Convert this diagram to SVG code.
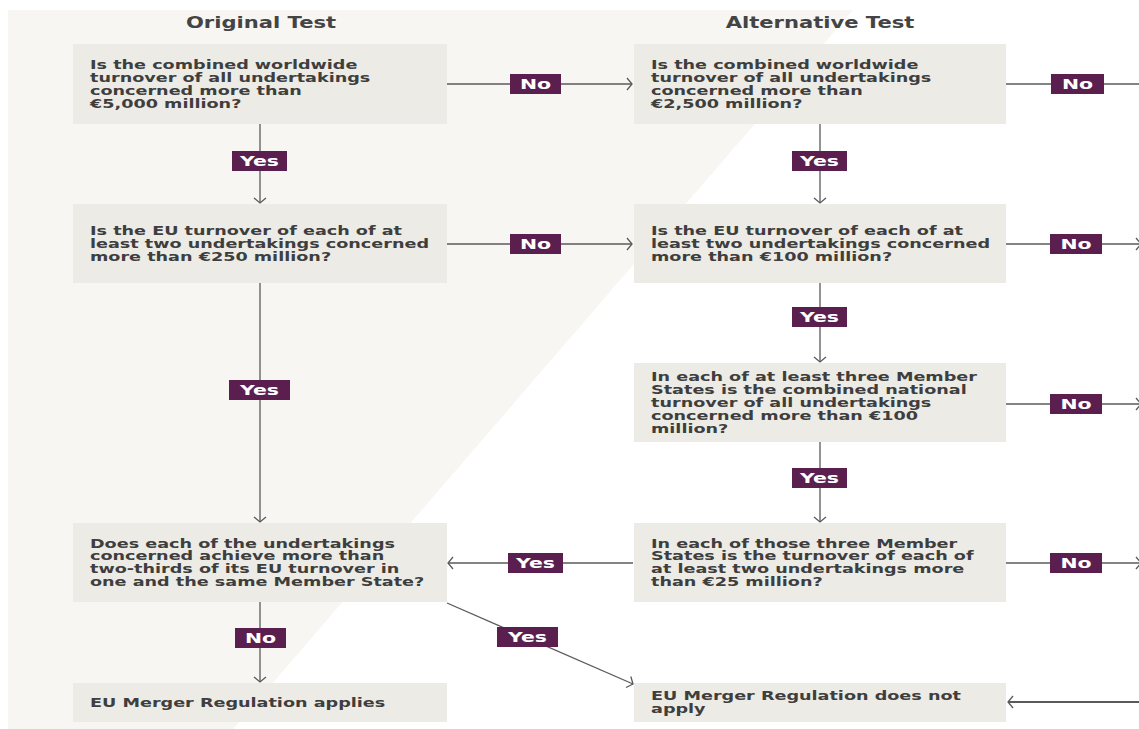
<svg xmlns="http://www.w3.org/2000/svg" width="1139" height="729" viewBox="0 0 1139 729">
<style>
.box{fill:#ecebe5}
.t{font-family:"DejaVu Sans",Verdana,sans-serif;font-weight:bold;font-size:13px;fill:#3e3e3e}
.title{font-family:"DejaVu Sans",Verdana,sans-serif;font-weight:bold;font-size:15.5px;fill:#444444}
.lbl{fill:#5b1f4f}
.lt{font-family:"DejaVu Sans",Verdana,sans-serif;font-weight:bold;font-size:14.5px;fill:#ffffff;text-anchor:middle}
.c{fill:none;stroke:#5a5a5a;stroke-width:1.3}
</style>
<defs>
<marker id="ah" markerUnits="userSpaceOnUse" markerWidth="14" markerHeight="14" viewBox="-8 -7 10 14" refX="0" refY="0" orient="auto">
<path d="M-5,-6 L0,0 L-5,6" fill="none" stroke="#5a5a5a" stroke-width="1.3"/>
</marker>
</defs>
<rect width="1139" height="729" fill="#ffffff"/>
<polygon points="8,10 853,10 233,729 8,729" fill="#f7f6f2"/>
<text class="title" text-anchor="middle" transform="translate(261,28) scale(1.36,1)">Original Test</text>
<text class="title" text-anchor="middle" transform="translate(820,28) scale(1.36,1)">Alternative Test</text>
<g id="connectors">
<path class="c" d="M447,84 H632" marker-end="url(#ah)"/>
<path class="c" d="M1006,84 H1139"/>
<path class="c" d="M260,124 V203" marker-end="url(#ah)"/>
<path class="c" d="M820,124 V203" marker-end="url(#ah)"/>
<path class="c" d="M447,244 H632" marker-end="url(#ah)"/>
<path class="c" d="M1006,244 H1141" marker-end="url(#ah)"/>
<path class="c" d="M260,283 V522" marker-end="url(#ah)"/>
<path class="c" d="M820,283 V362" marker-end="url(#ah)"/>
<path class="c" d="M1006,404 H1141" marker-end="url(#ah)"/>
<path class="c" d="M820,442 V522" marker-end="url(#ah)"/>
<path class="c" d="M633,563 H448" marker-end="url(#ah)"/>
<path class="c" d="M1006,563 H1141" marker-end="url(#ah)"/>
<path class="c" d="M260,602 V682" marker-end="url(#ah)"/>
<path class="c" d="M447,603 L633,684" marker-end="url(#ah)"/>
<path class="c" d="M1139,702 H1008" marker-end="url(#ah)" style="stroke-width:1.8"/>
<g id="labels">
<rect class="lbl" x="510" y="74" width="51" height="20"/><text class="lt" transform="translate(535.5,89) scale(1.41,1)">No</text>
<rect class="lbl" x="1051" y="74" width="53" height="20"/><text class="lt" transform="translate(1077.5,89) scale(1.41,1)">No</text>
<rect class="lbl" x="232" y="151" width="55" height="20"/><text class="lt" transform="translate(259.5,166) scale(1.41,1)">Yes</text>
<rect class="lbl" x="792" y="151" width="55" height="20"/><text class="lt" transform="translate(819.5,166) scale(1.41,1)">Yes</text>
<rect class="lbl" x="510" y="234" width="51" height="20"/><text class="lt" transform="translate(535.5,249) scale(1.41,1)">No</text>
<rect class="lbl" x="1050" y="234" width="52" height="20"/><text class="lt" transform="translate(1076,249) scale(1.41,1)">No</text>
<rect class="lbl" x="229" y="380" width="61" height="20"/><text class="lt" transform="translate(259.5,395) scale(1.41,1)">Yes</text>
<rect class="lbl" x="792" y="307" width="55" height="20"/><text class="lt" transform="translate(819.5,322) scale(1.41,1)">Yes</text>
<rect class="lbl" x="1050" y="394" width="52" height="20"/><text class="lt" transform="translate(1076,409) scale(1.41,1)">No</text>
<rect class="lbl" x="792" y="468" width="55" height="20"/><text class="lt" transform="translate(819.5,483) scale(1.41,1)">Yes</text>
<rect class="lbl" x="508" y="553" width="55" height="20"/><text class="lt" transform="translate(535.5,568) scale(1.41,1)">Yes</text>
<rect class="lbl" x="1050" y="553" width="52" height="20"/><text class="lt" transform="translate(1076,568) scale(1.41,1)">No</text>
<rect class="lbl" x="235" y="628" width="51" height="20"/><text class="lt" transform="translate(260.5,643) scale(1.41,1)">No</text>
<rect class="lbl" x="497" y="627" width="61" height="20"/><text class="lt" transform="translate(527.5,642) scale(1.41,1)">Yes</text>
</g>
</g>
<g id="o1"><rect class="box" x="73" y="44" width="374" height="80"/>
<text class="t" transform="translate(90,69) scale(1.355,1)"><tspan x="0" y="0">Is the combined worldwide</tspan><tspan x="0" y="13">turnover of all undertakings</tspan><tspan x="0" y="26">concerned more than</tspan><tspan x="0" y="39">€5,000 million?</tspan></text></g>
<g id="a1"><rect class="box" x="634" y="44" width="372" height="80"/>
<text class="t" transform="translate(651,69) scale(1.355,1)"><tspan x="0" y="0">Is the combined worldwide</tspan><tspan x="0" y="13">turnover of all undertakings</tspan><tspan x="0" y="26">concerned more than</tspan><tspan x="0" y="39">€2,500 million?</tspan></text></g>
<g id="o2"><rect class="box" x="73" y="204" width="374" height="79"/>
<text class="t" transform="translate(90,235) scale(1.355,1)"><tspan x="0" y="0">Is the EU turnover of each of at</tspan><tspan x="0" y="13">least two undertakings concerned</tspan><tspan x="0" y="26">more than €250 million?</tspan></text></g>
<g id="a2"><rect class="box" x="634" y="204" width="372" height="79"/>
<text class="t" transform="translate(651,235) scale(1.355,1)"><tspan x="0" y="0">Is the EU turnover of each of at</tspan><tspan x="0" y="13">least two undertakings concerned</tspan><tspan x="0" y="26">more than €100 million?</tspan></text></g>
<g id="a3"><rect class="box" x="634" y="363" width="372" height="79"/>
<text class="t" transform="translate(651,381) scale(1.355,1)"><tspan x="0" y="0">In each of at least three Member</tspan><tspan x="0" y="13">States is the combined national</tspan><tspan x="0" y="26">turnover of all undertakings</tspan><tspan x="0" y="39">concerned more than €100</tspan><tspan x="0" y="52">million?</tspan></text></g>
<g id="o3"><rect class="box" x="73" y="523" width="374" height="79"/>
<text class="t" transform="translate(90,547.5) scale(1.355,1)"><tspan x="0" y="0">Does each of the undertakings</tspan><tspan x="0" y="13">concerned achieve more than</tspan><tspan x="0" y="26">two-thirds of its EU turnover in</tspan><tspan x="0" y="39">one and the same Member State?</tspan></text></g>
<g id="a4"><rect class="box" x="634" y="523" width="372" height="79"/>
<text class="t" transform="translate(651,547.5) scale(1.355,1)"><tspan x="0" y="0">In each of those three Member</tspan><tspan x="0" y="13">States is the turnover of each of</tspan><tspan x="0" y="26">at least two undertakings more</tspan><tspan x="0" y="39">than €25 million?</tspan></text></g>
<g id="o4"><rect class="box" x="73" y="683" width="374" height="39"/>
<text class="t" transform="translate(90,707) scale(1.355,1)">EU Merger Regulation applies</text></g>
<g id="a5"><rect class="box" x="634" y="683" width="372" height="39"/>
<text class="t" transform="translate(651,700) scale(1.355,1)"><tspan x="0" y="0">EU Merger Regulation does not</tspan><tspan x="0" y="13">apply</tspan></text></g>
</svg>
